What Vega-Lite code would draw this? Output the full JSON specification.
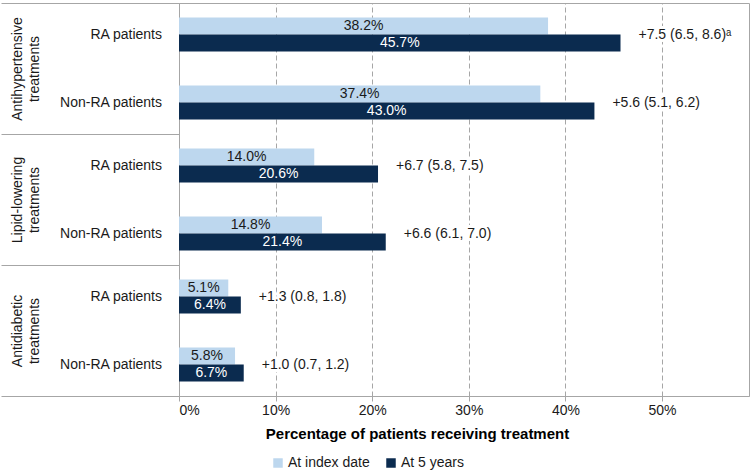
{
  "$schema": "https://vega.github.io/schema/vega-lite/v6.json",
  "width": 570,
  "height": 393,
  "padding": {"left": 0, "top": 2, "right": 2, "bottom": 0},
  "background": "white",
  "config": {
    "font": "Liberation Sans",
    "view": {"stroke": "#a6a6a6", "strokeWidth": 1},
    "axis": {"domainColor": "#a6a6a6", "tickColor": "#a6a6a6", "labelColor": "#1a1a1a", "titleColor": "#000000"}
  },
  "datasets": {
    "bars": [
      {"group": "Antihypertensive treatments", "patient": "RA patients", "series": "At index date", "value": 0.382},
      {"group": "Antihypertensive treatments", "patient": "RA patients", "series": "At 5 years", "value": 0.457},
      {"group": "Antihypertensive treatments", "patient": "Non-RA patients", "series": "At index date", "value": 0.374},
      {"group": "Antihypertensive treatments", "patient": "Non-RA patients", "series": "At 5 years", "value": 0.430},
      {"group": "Lipid-lowering treatments", "patient": "RA patients", "series": "At index date", "value": 0.140},
      {"group": "Lipid-lowering treatments", "patient": "RA patients", "series": "At 5 years", "value": 0.206},
      {"group": "Lipid-lowering treatments", "patient": "Non-RA patients", "series": "At index date", "value": 0.148},
      {"group": "Lipid-lowering treatments", "patient": "Non-RA patients", "series": "At 5 years", "value": 0.214},
      {"group": "Antidiabetic treatments", "patient": "RA patients", "series": "At index date", "value": 0.051},
      {"group": "Antidiabetic treatments", "patient": "RA patients", "series": "At 5 years", "value": 0.064},
      {"group": "Antidiabetic treatments", "patient": "Non-RA patients", "series": "At index date", "value": 0.058},
      {"group": "Antidiabetic treatments", "patient": "Non-RA patients", "series": "At 5 years", "value": 0.067}
    ],
    "rows": [
      {"group": "Antihypertensive treatments", "patient": "RA patients", "v5": 0.457, "diff": "+7.5 (6.5, 8.6)ᵃ"},
      {"group": "Antihypertensive treatments", "patient": "Non-RA patients", "v5": 0.430, "diff": "+5.6 (5.1, 6.2)"},
      {"group": "Lipid-lowering treatments", "patient": "RA patients", "v5": 0.206, "diff": "+6.7 (5.8, 7.5)"},
      {"group": "Lipid-lowering treatments", "patient": "Non-RA patients", "v5": 0.214, "diff": "+6.6 (6.1, 7.0)"},
      {"group": "Antidiabetic treatments", "patient": "RA patients", "v5": 0.064, "diff": "+1.3 (0.8, 1.8)"},
      {"group": "Antidiabetic treatments", "patient": "Non-RA patients", "v5": 0.067, "diff": "+1.0 (0.7, 1.2)"}
    ]
  },
  "layer": [
    {
      "data": {"name": "bars"},
      "transform": [{"calculate": "datum.patient + '|' + datum.series", "as": "sub"}],
      "mark": {"type": "bar"},
      "encoding": {
        "y": {
          "field": "group", "type": "nominal", "title": null,
          "scale": {"domain": ["Antihypertensive treatments", "Lipid-lowering treatments", "Antidiabetic treatments"], "paddingInner": 0, "paddingOuter": 0},
          "axis": {
            "title": null, "tickBand": "extent", "tickSize": 178, "labelPadding": -16,
            "labelAngle": -90, "labelAlign": "center", "labelBaseline": "middle",
            "labelExpr": "split(datum.label, ' ')", "labelFontSize": 14, "labelLimit": 0,
            "labelLineHeight": 17, "domainColor": "#a6a6a6"
          }
        },
        "yOffset": {
          "field": "sub", "type": "nominal",
          "scale": {"domain": ["RA patients|At index date", "RA patients|At 5 years", "g1", "g2", "Non-RA patients|At index date", "Non-RA patients|At 5 years"], "paddingInner": 0, "paddingOuter": 0.85}
        },
        "x": {
          "field": "value", "type": "quantitative", "title": "Percentage of patients receiving treatment",
          "scale": {"domain": [0, 0.59], "nice": false, "zero": true},
          "axis": {
            "values": [0, 0.1, 0.2, 0.3, 0.4, 0.5], "format": ".0%", "labelFontSize": 14,
            "tickSize": 5, "labelPadding": 2, "grid": true, "gridDash": [5, 3], "gridColor": "#a6a6a6",
            "title": "Percentage of patients receiving treatment", "titleFontSize": 15, "titleFontWeight": "bold",
            "titlePadding": 9, "titleX": 238
          }
        },
        "color": {
          "field": "series", "type": "nominal",
          "scale": {"domain": ["At index date", "At 5 years"], "range": ["#bdd7ee", "#0b2b4f"]},
          "legend": {
            "title": null, "orient": "none", "legendX": 92, "legendY": 453, "direction": "horizontal",
            "symbolType": "square", "symbolSize": 90, "symbolStrokeWidth": 0, "labelFontSize": 14,
            "labelColor": "#1a1a1a", "columnPadding": 14, "labelOffset": 3
          }
        }
      }
    },
    {
      "data": {"name": "bars"},
      "transform": [
        {"calculate": "datum.patient + '|' + datum.series", "as": "sub"},
        {"calculate": "datum.value / 2", "as": "mid"}
      ],
      "mark": {"type": "text", "fontSize": 14, "baseline": "middle", "align": "center"},
      "encoding": {
        "y": {"field": "group", "type": "nominal", "title": null,
          "scale": {"domain": ["Antihypertensive treatments", "Lipid-lowering treatments", "Antidiabetic treatments"], "paddingInner": 0, "paddingOuter": 0}},
        "yOffset": {"field": "sub", "type": "nominal",
          "scale": {"domain": ["RA patients|At index date", "RA patients|At 5 years", "g1", "g2", "Non-RA patients|At index date", "Non-RA patients|At 5 years"], "paddingInner": 0, "paddingOuter": 0.85}},
        "x": {"field": "mid", "type": "quantitative", "title": "Percentage of patients receiving treatment", "scale": {"domain": [0, 0.59], "nice": false}},
        "text": {"field": "value", "type": "quantitative", "format": ".1%"},
        "color": {"condition": {"test": "datum.series === 'At 5 years'", "value": "#ffffff"}, "value": "#1a1a1a"}
      }
    },
    {
      "data": {"name": "rows"},
      "transform": [{"calculate": "datum.patient + '|At 5 years'", "as": "sub"}],
      "mark": {"type": "text", "fontSize": 14, "baseline": "middle", "align": "right", "dx": -17, "dy": -8, "color": "#1a1a1a"},
      "encoding": {
        "y": {"field": "group", "type": "nominal", "title": null,
          "scale": {"domain": ["Antihypertensive treatments", "Lipid-lowering treatments", "Antidiabetic treatments"], "paddingInner": 0, "paddingOuter": 0}},
        "yOffset": {"field": "sub", "type": "nominal",
          "scale": {"domain": ["RA patients|At index date", "RA patients|At 5 years", "g1", "g2", "Non-RA patients|At index date", "Non-RA patients|At 5 years"], "paddingInner": 0, "paddingOuter": 0.85}},
        "x": {"datum": 0, "type": "quantitative", "title": "Percentage of patients receiving treatment", "scale": {"domain": [0, 0.59], "nice": false}},
        "text": {"field": "patient", "type": "nominal"}
      }
    },
    {
      "data": {"name": "rows"},
      "transform": [{"calculate": "datum.patient + '|At 5 years'", "as": "sub"}],
      "mark": {"type": "text", "fontSize": 14, "baseline": "middle", "align": "left", "dx": 18, "dy": -8, "color": "#ffffff", "stroke": "#ffffff", "strokeWidth": 6, "strokeJoin": "round"},
      "encoding": {
        "y": {"field": "group", "type": "nominal", "title": null,
          "scale": {"domain": ["Antihypertensive treatments", "Lipid-lowering treatments", "Antidiabetic treatments"], "paddingInner": 0, "paddingOuter": 0}},
        "yOffset": {"field": "sub", "type": "nominal",
          "scale": {"domain": ["RA patients|At index date", "RA patients|At 5 years", "g1", "g2", "Non-RA patients|At index date", "Non-RA patients|At 5 years"], "paddingInner": 0, "paddingOuter": 0.85}},
        "x": {"field": "v5", "type": "quantitative", "title": "Percentage of patients receiving treatment", "scale": {"domain": [0, 0.59], "nice": false}},
        "text": {"field": "diff", "type": "nominal"}
      }
    },
    {
      "data": {"name": "rows"},
      "transform": [{"calculate": "datum.patient + '|At 5 years'", "as": "sub"}],
      "mark": {"type": "text", "fontSize": 14, "baseline": "middle", "align": "left", "dx": 18, "dy": -8, "color": "#1a1a1a"},
      "encoding": {
        "y": {"field": "group", "type": "nominal", "title": null,
          "scale": {"domain": ["Antihypertensive treatments", "Lipid-lowering treatments", "Antidiabetic treatments"], "paddingInner": 0, "paddingOuter": 0}},
        "yOffset": {"field": "sub", "type": "nominal",
          "scale": {"domain": ["RA patients|At index date", "RA patients|At 5 years", "g1", "g2", "Non-RA patients|At index date", "Non-RA patients|At 5 years"], "paddingInner": 0, "paddingOuter": 0.85}},
        "x": {"field": "v5", "type": "quantitative", "title": "Percentage of patients receiving treatment", "scale": {"domain": [0, 0.59], "nice": false}},
        "text": {"field": "diff", "type": "nominal"}
      }
    }
  ]
}
